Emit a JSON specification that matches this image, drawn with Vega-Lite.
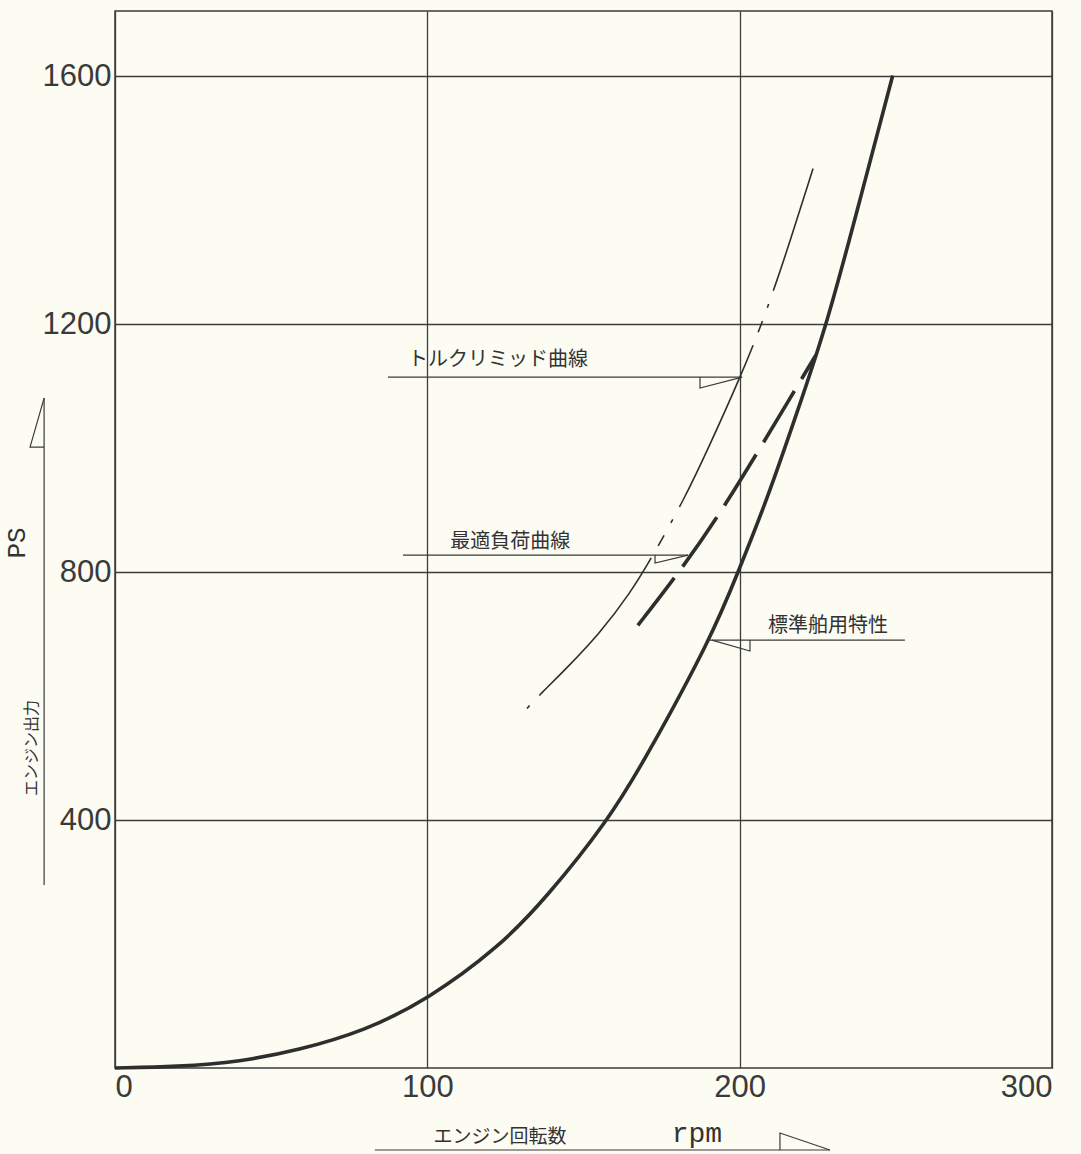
{
  "$schema": "https://vega.github.io/schema/vega-lite/v6.json",
  "width": 937,
  "height": 1057,
  "autosize": "none",
  "padding": {"left": 115, "top": 11, "right": 29, "bottom": 86},
  "background": "#fcfcf3",
  "config": {
    "view": {"stroke": "#3a3a3a", "strokeWidth": 1.5},
    "axis": {"domain": false, "ticks": false, "grid": true, "gridColor": "#3d3d3d", "gridWidth": 1.3, "gridOpacity": 1, "labelFont": "Liberation Sans", "labelFontSize": 31, "labelColor": "#3a3a3a", "title": null}
  },
  "datasets": {
    "standard": [
      {"rpm": 0, "ps": 0}, {"rpm": 20, "ps": 2}, {"rpm": 40, "ps": 10}, {"rpm": 59, "ps": 29},
      {"rpm": 80, "ps": 60}, {"rpm": 100, "ps": 110}, {"rpm": 123, "ps": 195}, {"rpm": 138, "ps": 274},
      {"rpm": 158, "ps": 400}, {"rpm": 170, "ps": 500}, {"rpm": 191, "ps": 695}, {"rpm": 199.5, "ps": 800},
      {"rpm": 209, "ps": 920}, {"rpm": 218, "ps": 1052}, {"rpm": 228, "ps": 1200}, {"rpm": 238.5, "ps": 1400},
      {"rpm": 249, "ps": 1601}
    ],
    "torque": [
      {"rpm": 131.9, "ps": 580}, {"rpm": 136, "ps": 602}, {"rpm": 145, "ps": 647}, {"rpm": 155, "ps": 700},
      {"rpm": 165, "ps": 766}, {"rpm": 172.3, "ps": 827}, {"rpm": 182.5, "ps": 920}, {"rpm": 190, "ps": 1000},
      {"rpm": 200.1, "ps": 1113}, {"rpm": 207.5, "ps": 1205}, {"rpm": 215, "ps": 1315}, {"rpm": 223.5, "ps": 1451}
    ],
    "optimal": [
      {"rpm": 167.4, "ps": 714}, {"rpm": 179.9, "ps": 795}, {"rpm": 193.7, "ps": 892},
      {"rpm": 218.7, "ps": 1102}, {"rpm": 224.4, "ps": 1150}
    ],
    "leaders": [
      {"x": 87.4, "x2": 200.8, "y": 1114.5},
      {"x": 92.2, "x2": 183.5, "y": 827.4},
      {"x": 190.5, "x2": 252.9, "y": 690.3},
      {"x": 83.2, "x2": 228.9, "y": -132.3}
    ],
    "vleaders": [
      {"x": -22.7, "y": 295, "y2": 1080.6}
    ],
    "flags": [
      {"id": "t", "seq": 1, "x": 187.3, "y": 1114.5}, {"id": "t", "seq": 2, "x": 187.3, "y": 1096.8}, {"id": "t", "seq": 3, "x": 200.8, "y": 1114.5},
      {"id": "o", "seq": 1, "x": 172.9, "y": 827.4}, {"id": "o", "seq": 2, "x": 172.9, "y": 814.5}, {"id": "o", "seq": 3, "x": 183.5, "y": 827.4},
      {"id": "s", "seq": 1, "x": 191.1, "y": 690.3}, {"id": "s", "seq": 2, "x": 203.3, "y": 672.6}, {"id": "s", "seq": 3, "x": 203.3, "y": 690.3},
      {"id": "l", "seq": 1, "x": -22.7, "y": 1080.6}, {"id": "l", "seq": 2, "x": -27.2, "y": 1001.6}, {"id": "l", "seq": 3, "x": -22.7, "y": 1001.6},
      {"id": "b", "seq": 1, "x": 228.9, "y": -132.3}, {"id": "b", "seq": 2, "x": 212.9, "y": -104.8}, {"id": "b", "seq": 3, "x": 212.9, "y": -132.3}
    ]
  },
  "layer": [
    {
      "data": {"name": "standard"},
      "mark": {"type": "line", "interpolate": "basis", "color": "#2e2e2e", "strokeWidth": 3.6},
      "encoding": {
        "x": {"field": "rpm", "type": "quantitative", "scale": {"domain": [0, 300], "nice": false, "zero": false}, "axis": {"values": [0, 100, 200, 300], "labelPadding": 4, "format": "d"}},
        "y": {"field": "ps", "type": "quantitative", "scale": {"domain": [0, 1705], "nice": false, "zero": false}, "axis": {"values": [400, 800, 1200, 1600], "labelPadding": 4, "format": "d"}}
      }
    },
    {
      "data": {"name": "torque"},
      "mark": {"type": "line", "interpolate": "basis", "color": "#2e2e2e", "strokeWidth": 1.6, "strokeDash": [4, 14, 178, 14, 12, 14]},
      "encoding": {
        "x": {"field": "rpm", "type": "quantitative"},
        "y": {"field": "ps", "type": "quantitative"}
      }
    },
    {
      "data": {"name": "optimal"},
      "mark": {"type": "line", "interpolate": "basis", "color": "#2e2e2e", "strokeWidth": 3.6, "strokeDash": [60, 14]},
      "encoding": {
        "x": {"field": "rpm", "type": "quantitative"},
        "y": {"field": "ps", "type": "quantitative"}
      }
    },
    {
      "data": {"name": "leaders"},
      "mark": {"type": "rule", "color": "#3a3a3a", "strokeWidth": 1.2},
      "encoding": {
        "x": {"field": "x", "type": "quantitative"},
        "x2": {"field": "x2"},
        "y": {"field": "y", "type": "quantitative"}
      }
    },
    {
      "data": {"name": "vleaders"},
      "mark": {"type": "rule", "color": "#3a3a3a", "strokeWidth": 1.2},
      "encoding": {
        "x": {"field": "x", "type": "quantitative"},
        "y": {"field": "y", "type": "quantitative"},
        "y2": {"field": "y2"}
      }
    },
    {
      "data": {"name": "flags"},
      "mark": {"type": "line", "color": "#3a3a3a", "strokeWidth": 1.2},
      "encoding": {
        "x": {"field": "x", "type": "quantitative"},
        "y": {"field": "y", "type": "quantitative"},
        "detail": {"field": "id"},
        "order": {"field": "seq", "type": "quantitative"}
      }
    },
    {
      "data": {"values": [
        {"label": "トルクリミッド曲線", "x": 93.8, "y": 1142},
        {"label": "最適負荷曲線", "x": 107.3, "y": 848},
        {"label": "標準舶用特性", "x": 209.1, "y": 713}
      ]},
      "mark": {"type": "text", "align": "left", "baseline": "middle", "font": "Noto Sans CJK JP", "fontSize": 20, "color": "#333333"},
      "encoding": {
        "x": {"field": "x", "type": "quantitative"},
        "y": {"field": "y", "type": "quantitative"},
        "text": {"field": "label"}
      }
    },
    {
      "data": {"values": [{"label": "PS", "x": -31.4, "y": 847}]},
      "mark": {"type": "text", "align": "center", "baseline": "middle", "angle": 270, "font": "Liberation Mono", "fontSize": 26, "color": "#333333"},
      "encoding": {
        "x": {"field": "x", "type": "quantitative"},
        "y": {"field": "y", "type": "quantitative"},
        "text": {"field": "label"}
      }
    },
    {
      "data": {"values": [{"label": "エンジン出力", "x": -26.6, "y": 516}]},
      "mark": {"type": "text", "align": "center", "baseline": "middle", "angle": 270, "font": "Noto Sans CJK JP", "fontSize": 16, "color": "#333333"},
      "encoding": {
        "x": {"field": "x", "type": "quantitative"},
        "y": {"field": "y", "type": "quantitative"},
        "text": {"field": "label"}
      }
    },
    {
      "data": {"values": [{"label": "エンジン回転数", "x": 123.3, "y": -111.3}]},
      "mark": {"type": "text", "align": "center", "baseline": "middle", "font": "Noto Sans CJK JP", "fontSize": 19, "color": "#333333"},
      "encoding": {
        "x": {"field": "x", "type": "quantitative"},
        "y": {"field": "y", "type": "quantitative"},
        "text": {"field": "label"}
      }
    },
    {
      "data": {"values": [{"label": "rpm", "x": 186.3, "y": -106}]},
      "mark": {"type": "text", "align": "center", "baseline": "middle", "font": "Liberation Mono", "fontSize": 28, "color": "#333333"},
      "encoding": {
        "x": {"field": "x", "type": "quantitative"},
        "y": {"field": "y", "type": "quantitative"},
        "text": {"field": "label"}
      }
    }
  ]
}
